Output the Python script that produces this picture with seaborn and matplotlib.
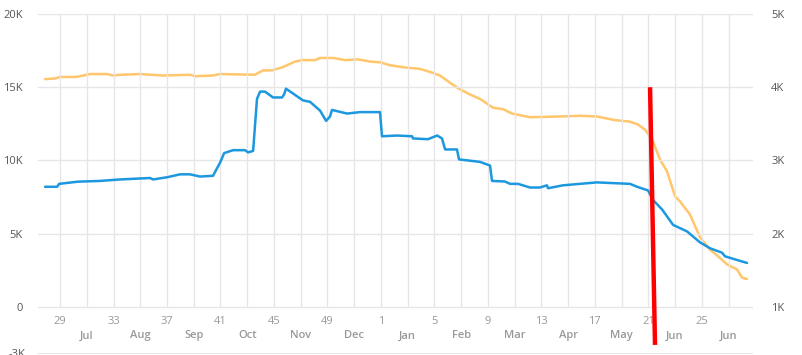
"""Weekly totals, two series on twin axes, with a red marker line."""
import matplotlib
matplotlib.use("Agg")
import matplotlib.pyplot as plt
import numpy as np
import pandas as pd
import seaborn as sns

# x positions are weeks counted from week 29
blue_weeks = [-1.12, -0.22, -0.07, 1.35, 2.99, 4.49, 6.73, 6.96, 8.0, 8.98,
              9.72, 10.47, 11.44, 11.97, 12.27, 12.94, 13.84, 14.06, 14.44, 14.73,
              14.96, 15.33, 15.93, 16.6, 16.75, 16.9, 18.17, 18.7, 19.45, 19.9,
              20.19, 20.34, 21.47, 22.44, 23.93, 24.08, 25.21, 26.33, 26.4, 27.52,
              28.2, 28.57, 28.8, 29.69, 29.84, 31.41, 32.16, 32.31, 33.28, 33.66,
              34.26, 35.15, 35.9, 36.42, 36.5, 37.62, 38.89, 40.16, 42.63, 43.16,
              43.98, 44.35, 45.03, 45.85, 46.9, 47.87, 48.62, 49.51, 49.74, 50.64,
              51.38]
blue_values = [8.2, 8.2, 8.4, 8.55, 8.6, 8.7, 8.8, 8.7, 8.85, 9.05,
               9.05, 8.9, 8.95, 9.85, 10.5, 10.7, 10.7, 10.55, 10.65, 14.2,
               14.7, 14.7, 14.3, 14.3, 14.5, 14.9, 14.1, 14.0, 13.4, 12.7,
               13.0, 13.45, 13.2, 13.3, 13.3, 11.65, 11.7, 11.65, 11.5, 11.45,
               11.7, 11.5, 10.75, 10.75, 10.07, 9.9, 9.65, 8.6, 8.56, 8.4,
               8.4, 8.15, 8.15, 8.3, 8.1, 8.3, 8.4, 8.5, 8.4, 8.2,
               7.95, 7.3, 6.65, 5.6, 5.15, 4.4, 4.0, 3.7, 3.45, 3.2,
               3.0]  # thousands, left axis

orange_weeks = [-1.12, -0.37, 0.0, 1.12, 1.5, 2.24, 3.52, 3.96, 4.49, 5.98,
                7.7, 9.72, 10.1, 11.44, 11.97, 14.58, 15.18, 15.86, 16.6, 17.58,
                18.1, 19.07, 19.45, 20.42, 21.32, 22.29, 23.19, 23.93, 24.68, 25.8,
                26.93, 27.82, 28.42, 29.17, 29.92, 30.67, 31.41, 32.39, 33.13, 33.81,
                35.15, 37.4, 38.89, 40.16, 41.51, 42.63, 43.23, 43.75, 44.28, 44.88,
                45.4, 46.0, 46.37, 47.12, 47.87, 48.62, 49.22, 49.89, 50.64, 51.01,
                51.38]
orange_values = [4.11, 4.12, 4.14, 4.14, 4.15, 4.18, 4.18, 4.16, 4.17, 4.18,
                 4.16, 4.17, 4.15, 4.16, 4.18, 4.17, 4.23, 4.23, 4.27, 4.35,
                 4.37, 4.37, 4.40, 4.40, 4.37, 4.38, 4.35, 4.34, 4.30, 4.27,
                 4.25, 4.20, 4.16, 4.06, 3.97, 3.90, 3.84, 3.72, 3.70, 3.64,
                 3.59, 3.60, 3.61, 3.60, 3.55, 3.53, 3.49, 3.42, 3.29, 3.01,
                 2.85, 2.51, 2.44, 2.26, 1.95, 1.78, 1.69, 1.58, 1.51, 1.40,
                 1.38]  # thousands, right axis

week_labels = ["29", "33", "37", "41", "45", "49", "1", "5", "9", "13", "17", "21", "25"]
month_labels = ["Jul", "Aug", "Sep", "Oct", "Nov", "Dec", "Jan", "Feb", "Mar",
                "Apr", "May", "Jun", "Jun"]
left_ticks = [0, 5000, 10000, 15000, 20000]
left_tick_labels = ["0", "5K", "10K", "15K", "20K"]
right_ticks = [1000, 2000, 3000, 4000, 5000]
right_tick_labels = ["1K", "2K", "3K", "4K", "5K"]
marker_x = (44.13, 44.5)        # red line, top and bottom
marker_y = (15000, -2600)

BLUE, ORANGE, RED = "#1b98de", "#ffc66b", "#ff0000"
GRID, DARK, LIGHT = "#e6e6e6", "#555555", "#999999"

sns.set_theme(style="white")
plt.rcParams["font.family"] = ["Open Sans", "DejaVu Sans"]

blue = pd.DataFrame({"week": blue_weeks, "value": np.array(blue_values) * 1000})
orange = pd.DataFrame({"week": orange_weeks, "value": np.array(orange_values) * 1000})

fig = plt.figure(figsize=(8.02, 3.55), dpi=100)
ax = fig.add_axes([38 / 802, 1 - 354 / 355, 715 / 802, 340 / 355])
ax2 = ax.twinx()

ax.set_xlim(-1.65, 51.83)
ax.set_ylim(-3220, 20000)
ax2.set_ylim(356, 5000)

# grid
major = np.arange(len(week_labels)) * 4
minor = major + 2
for v in left_ticks:
    ax.axhline(v, color=GRID, lw=1, zorder=0)
ax.axhline(-3220, color=GRID, lw=1.5, zorder=0)
ax.vlines(np.concatenate([major, minor]), 0, 20000, color=GRID, lw=1, zorder=0)

sns.lineplot(data=blue, x="week", y="value", ax=ax, color=BLUE, lw=1.8, zorder=3)
sns.lineplot(data=orange, x="week", y="value", ax=ax2, color=ORANGE, lw=1.8, zorder=2)
ax.set_zorder(ax2.get_zorder() + 1)
ax.patch.set_visible(False)

ax.plot(marker_x, marker_y, color=RED, lw=3.2, solid_capstyle="butt",
        clip_on=False, zorder=5)

for a in (ax, ax2):
    for s in a.spines.values():
        s.set_visible(False)
    a.set_xlabel("")
    a.set_ylabel("")
    a.tick_params(length=0)

ax.set_yticks(left_ticks, left_tick_labels, color=DARK, fontsize=8)
ax.tick_params(axis="y", pad=11)
ax2.set_yticks(right_ticks, right_tick_labels, color=DARK, fontsize=8)
ax2.tick_params(axis="y", pad=13)
# bottom label is cut by the image edge in the original
ax.text(-2.6, -2900, "-3K", ha="right", va="top", color=DARK, fontsize=8,
        clip_on=False)

ax.set_xticks([])
for x, lab in zip(major, week_labels):
    ax.text(x, -1030, lab, ha="center", va="center", color=LIGHT, fontsize=8)
for x, lab in zip(minor, month_labels):
    ax.text(x, -1990, lab, ha="center", va="center", color=LIGHT, fontsize=8,
            fontweight="semibold")

fig.savefig("out.png", dpi=100)
